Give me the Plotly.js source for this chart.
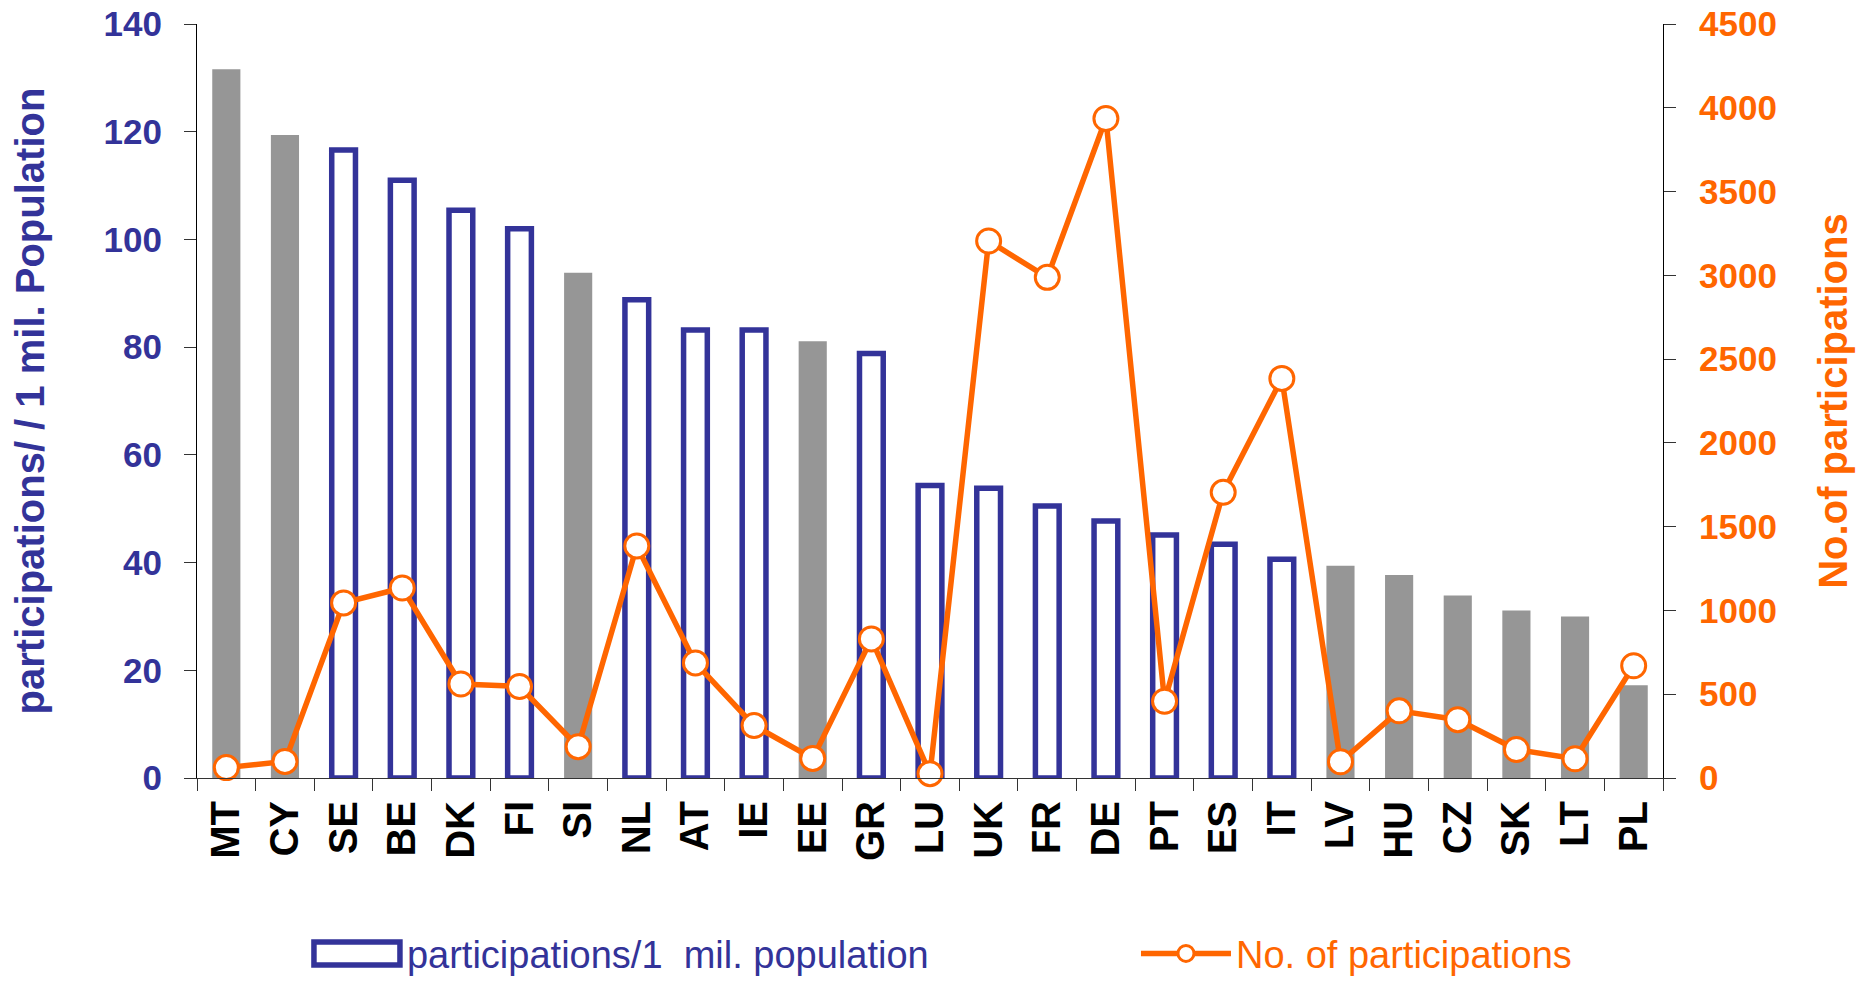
<!DOCTYPE html>
<html>
<head>
<meta charset="utf-8">
<script src="https://cdn.plot.ly/plotly-3.0.1.min.js"></script>
<style>
  html, body { margin: 0; padding: 0; background: #ffffff; }
  #chart { width: 1860px; height: 981px; }
</style>
</head>
<body>
<div id="chart"></div>
<script>
// ---- data ----
const countries = ['MT','CY','SE','BE','DK','FI','SI','NL','AT','IE','EE','GR','LU','UK','FR','DE','PT','ES','IT','LV','HU','CZ','SK','LT','PL'];
const perMillion = [131.6,119.4,116.6,111.0,105.4,102.0,93.8,88.8,83.2,83.2,81.1,78.8,54.3,53.8,50.5,47.7,45.1,43.4,40.6,39.4,37.7,33.9,31.1,30.0,17.2];
const participations = [62,99,1045,1134,561,546,187,1385,687,313,117,830,26,3205,2988,3936,458,1705,2385,97,401,348,170,115,670];
const newMember = ['MT','CY','SI','EE','LV','HU','CZ','SK','LT','PL'];
const leftTicks = [0,20,40,60,80,100,120,140];
const rightTicks = [0,500,1000,1500,2000,2500,3000,3500,4000,4500];

const BLUE = '#333399', ORANGE = '#FF6600', GREY = '#969696';
const FONT = 'Liberation Sans, Arial, sans-serif';

const isNew = countries.map(c => newMember.includes(c));
const greyVals = perMillion.map((v, i) => isNew[i] ? v : null);
const outlineVals = perMillion.map((v, i) => isNew[i] ? null : v);
const catRange = [-0.5, countries.length - 0.5];

const data = [
  {
    type: 'bar', x: countries, y: greyVals, width: 0.48,
    marker: { color: GREY, line: { width: 0 } },
    showlegend: false, hoverinfo: 'skip', xaxis: 'x', yaxis: 'y'
  },
  {
    type: 'bar', x: countries, y: outlineVals, width: 0.405,
    name: 'participations/1\u00a0 mil. population',
    marker: { color: '#ffffff', line: { color: BLUE, width: 5.5 } },
    legend: 'legend', hoverinfo: 'skip', xaxis: 'x', yaxis: 'y'
  },
  {
    type: 'scatter', mode: 'lines+markers', x: countries, y: participations,
    name: 'No. of participations',
    line: { color: ORANGE, width: 5.5 },
    marker: { symbol: 'circle', size: 24, color: '#ffffff', line: { color: ORANGE, width: 3 } },
    cliponaxis: false, legend: 'legend2', hoverinfo: 'skip', xaxis: 'x', yaxis: 'y2'
  }
];

const layout = {
  width: 1860, height: 981,
  paper_bgcolor: '#ffffff', plot_bgcolor: '#ffffff',
  margin: { l: 197, r: 197, t: 24, b: 203, autoexpand: false },
  font: { family: FONT },
  barmode: 'overlay',
  xaxis: {
    type: 'category', range: catRange, tickson: 'boundaries',
    ticks: 'outside', ticklen: 12, tickwidth: 1, tickcolor: '#333',
    showline: true, linecolor: '#333', linewidth: 1,
    tickangle: -90, ticklabelstandoff: 6,
    tickfont: { family: FONT, size: 40, color: '#000', weight: 700 },
    showgrid: false, zeroline: false, fixedrange: true
  },
  xaxis2: {
    overlaying: 'x', anchor: 'y', range: catRange,
    tickmode: 'linear', tick0: -0.5, dtick: 1,
    ticks: 'inside', ticklen: 10, tickwidth: 1, tickcolor: '#333',
    showticklabels: false, showline: false, showgrid: false, zeroline: false
  },
  yaxis: {
    range: [0, 140], tickvals: leftTicks,
    ticks: 'outside', ticklen: 12, tickwidth: 1, tickcolor: '#333',
    showline: true, linecolor: '#000', linewidth: 1,
    ticklabelstandoff: 15,
    tickfont: { family: FONT, size: 35, color: BLUE, weight: 700 },
    title: { text: 'participations/ / 1 mil. Population', standoff: 46,
             font: { family: FONT, size: 40, color: BLUE, weight: 700 } },
    showgrid: false, zeroline: false, fixedrange: true
  },
  yaxis2: {
    overlaying: 'y', side: 'right', anchor: 'x',
    range: [0, 4500], tickvals: rightTicks,
    ticks: 'outside', ticklen: 12, tickwidth: 1, tickcolor: '#333',
    showline: true, linecolor: '#000', linewidth: 1,
    ticklabelstandoff: 16,
    tickfont: { family: FONT, size: 35, color: ORANGE, weight: 700 },
    title: { text: 'No.of participations', standoff: 43,
             font: { family: FONT, size: 40, color: ORANGE, weight: 700 } },
    showgrid: false, zeroline: false, fixedrange: true
  },
  yaxis3: {
    overlaying: 'y', side: 'left', anchor: 'x', range: [0, 140], tickvals: leftTicks,
    ticks: 'inside', ticklen: 12, tickwidth: 1, tickcolor: '#333',
    showticklabels: false, showline: false, showgrid: false, zeroline: false
  },
  yaxis4: {
    overlaying: 'y', side: 'right', anchor: 'x', range: [0, 4500], tickvals: rightTicks,
    ticks: 'inside', ticklen: 12, tickwidth: 1, tickcolor: '#333',
    showticklabels: false, showline: false, showgrid: false, zeroline: false
  },
  legend: {
    orientation: 'h', x: 0.075, xanchor: 'left', y: -0.233, yanchor: 'middle',
    itemwidth: 90, bgcolor: 'rgba(0,0,0,0)',
    font: { family: FONT, size: 38, color: BLUE }
  },
  legend2: {
    orientation: 'h', x: 0.6405, xanchor: 'left', y: -0.233, yanchor: 'middle',
    itemwidth: 90, bgcolor: 'rgba(0,0,0,0)',
    font: { family: FONT, size: 38, color: ORANGE }
  }
};

Plotly.newPlot('chart', data, layout, { staticPlot: true, displayModeBar: false }).then(gd => {
  try {
    // widen the bar legend symbol to the long outlined rectangle used in the reference
    const paths = gd.querySelectorAll('g.legend .legendpoints path');
    paths.forEach(p => {
      p.setAttribute('d', 'M-43,-11.5h86v23h-86z');
      p.style.strokeWidth = '5.5px';
      p.style.stroke = BLUE;
      p.style.fill = '#ffffff';
    });
  } catch (e) {}
});
</script>
</body>
</html>
